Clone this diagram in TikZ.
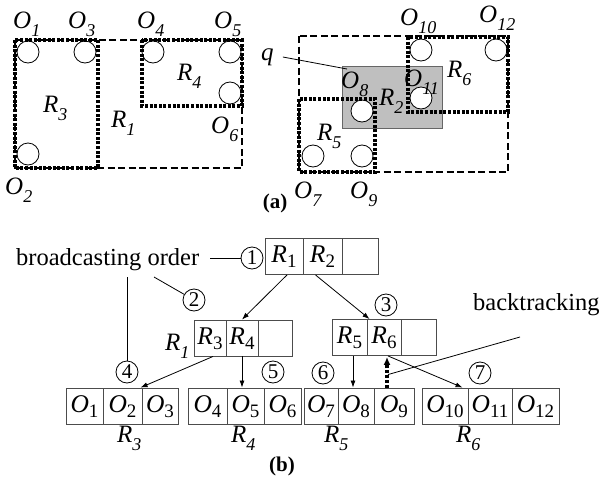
\documentclass[tikz,border=0pt]{standalone}
\usepackage{fontspec}
\setmainfont{Liberation Serif}
\usetikzlibrary{arrows.meta,calc}
\newcommand{\la}[2]{\textit{#1}\raisebox{-8pt}{\fontsize{18}{18}\selectfont\textit{#2}}}
\newcommand{\lc}[2]{\textit{#1}\raisebox{-5pt}{\fontsize{19}{19}\selectfont #2}}
\tikzset{
 dashbox/.style={line width=1.4pt, dash pattern=on 7pt off 3.5pt},
 dotbox/.style={line width=3.4pt, dash pattern=on 3pt off 1.6pt},
 obst/.style={draw, line width=0.8pt, fill=white},
 lab/.style={inner sep=0pt, anchor=base west, font=\fontsize{25}{25}\selectfont},
 cell/.style={draw=black!70, line width=0.9pt, inner sep=0pt, minimum height=36pt, text height=14pt, text depth=2pt, font=\fontsize{25.5}{25.5}\selectfont},
 num/.style={draw, circle, line width=0.8pt, inner sep=0pt, minimum size=22pt, font=\fontsize{21}{21}\selectfont},
 txt/.style={inner sep=0pt, anchor=base west, font=\fontsize{24.5}{24.5}\selectfont},
 arr/.style={line width=0.8pt, -{Latex[length=7pt,width=5pt]}},
 conn/.style={line width=0.8pt},
 back/.style={line width=3.4pt, dash pattern=on 3pt off 1.8pt, -{Latex[length=8pt,width=7pt]}},
 sublab/.style={font=\bfseries\fontsize{21}{21}\selectfont, inner sep=0pt},
}
\begin{document}
\begin{tikzpicture}[x=1pt,y=-1pt]
\useasboundingbox (0,0) rectangle (602,479);
% ---------- (a) left ----------
\draw[obst] (28,52) circle[radius=11pt];
\draw[obst] (85,52) circle[radius=11pt];
\draw[obst] (28,154) circle[radius=11pt];
\draw[obst] (153,52) circle[radius=11pt];
\draw[obst] (230,52) circle[radius=11pt];
\draw[obst] (230,93) circle[radius=11pt];
\draw[dashbox] (15,40) rectangle (242,168);
\draw[dotbox] (15,40) rectangle (98,168);
\draw[dotbox] (142,40) rectangle (242,106);
\node[lab] (lO1) at (13,28) {\la{O}{1}};
\node[lab] (lO3) at (68,28) {\la{O}{3}};
\node[lab] (lO4) at (137,28) {\la{O}{4}};
\node[lab] (lO5) at (214,28) {\la{O}{5}};
\node[lab] (lO6) at (211,133) {\la{O}{6}};
\node[lab] (lO2) at (5,194) {\la{O}{2}};
\node[lab] (lR3) at (43,112) {\la{R}{3}};
\node[lab] (lR1) at (111,127) {\la{R}{1}};
\node[lab] (lR4) at (177,80) {\la{R}{4}};
% ---------- (a) right ----------
\draw[fill=black!25, draw=black!60, line width=0.8pt] (342,66) rectangle (442,128);
\draw[obst] (313,156) circle[radius=11pt];
\draw[obst] (362,156) circle[radius=11pt];
\draw[obst] (362,111) circle[radius=11pt];
\draw[obst] (421,50) circle[radius=11pt];
\draw[obst] (421,98) circle[radius=11pt];
\draw[obst] (496,50) circle[radius=11pt];
\draw[dashbox] (299,36) rectangle (508,172);
\draw[dotbox] (299,99) rectangle (375,172);
\draw[dotbox] (408,37) rectangle (508,112);
\node[lab] (lq) at (261,60) {\textit{q}};
\draw[conn] ($(lq.base east)+(9,-3)$) -- (347,69);
\node[lab] (lO8) at (341,88) {\la{O}{8}};
\node[lab] (lR2) at (379,105) {\la{R}{2}};
\node[lab] (lO11) at (404,86) {\la{O}{11}};
\node[lab] (lR6) at (447,77) {\la{R}{6}};
\node[lab] (lO10) at (400,25) {\la{O}{10}};
\node[lab] (lO12) at (479,23) {\la{O}{12}};
\node[lab] (lR5) at (317,140) {\la{R}{5}};
\node[lab] (lO7) at (294,198) {\la{O}{7}};
\node[lab] (lO9) at (350,198) {\la{O}{9}};
\node[sublab] (sa) at (275,203) {(a)};
% ---------- (b) ----------
\node[cell, minimum width=38pt] (t1) at (284,256.5) {\lc{R}{1}};
\node[cell, minimum width=39pt] (t2) at (322.5,256.5) {\lc{R}{2}};
\node[cell, minimum width=36pt] (t3) at (360,256.5) {};
\node[cell, minimum width=32pt] (n11) at (210,338) {\lc{R}{3}};
\node[cell, minimum width=32pt] (n12) at (242,338) {\lc{R}{4}};
\node[cell, minimum width=34pt] (n13) at (275,338) {};
\node[cell, minimum width=35pt] (n21) at (349.5,337.5) {\lc{R}{5}};
\node[cell, minimum width=34pt] (n22) at (384,337.5) {\lc{R}{6}};
\node[cell, minimum width=35pt] (n23) at (418.5,337.5) {};
\node[cell, minimum width=37pt] (l31) at (84.5,406) {\lc{O}{1}};
\node[cell, minimum width=39pt] (l32) at (122.5,406) {\lc{O}{2}};
\node[cell, minimum width=36pt] (l33) at (160,406) {\lc{O}{3}};
\node[cell, minimum width=39pt] (l41) at (207.5,406) {\lc{O}{4}};
\node[cell, minimum width=37pt] (l42) at (245.5,406) {\lc{O}{5}};
\node[cell, minimum width=37pt] (l43) at (282.5,406) {\lc{O}{6}};
\node[cell, minimum width=34pt] (l51) at (321,406) {\lc{O}{7}};
\node[cell, minimum width=36pt] (l52) at (356,406) {\lc{O}{8}};
\node[cell, minimum width=40pt] (l53) at (394,406) {\lc{O}{9}};
\node[cell, minimum width=46pt] (l61) at (445,406) {\lc{O}{10}};
\node[cell, minimum width=44pt] (l62) at (490,406) {\lc{O}{11}};
\node[cell, minimum width=47pt] (l63) at (535.5,406) {\lc{O}{12}};
\node[lab] (bR1) at (165,350) {\la{R}{1}};
\node[lab] (bR3) at (117,442) {\la{R}{3}};
\node[lab] (bR4) at (231,442) {\la{R}{4}};
\node[lab] (bR5) at (324,442) {\la{R}{5}};
\node[lab] (bR6) at (456,442) {\la{R}{6}};
\node[sublab] (sb) at (282,466) {(b)};
\node[num] (c1) at (252,258) {1};
\node[num] (c2) at (194,300) {2};
\node[num] (c3) at (386,305) {3};
\node[num] (c4) at (127,372) {4};
\node[num] (c5) at (273,372) {5};
\node[num] (c6) at (323,373) {6};
\node[num] (c7) at (480,373) {7};
\node[txt] (bo) at (16,265) {broadcasting order};
\node[txt] (bt) at (473,310) {backtracking};
\draw[conn] ($(bo.base east)+(11,-7)$) -- (c1.west);
\draw[conn] ($(bo.base west)+(138,12)$) -- (c2);
\coordinate (v4) at ($(bo.base west)+(111,12)$);
\draw[conn] (v4) -- (v4 |- c4.north);
\draw[arr] ($(t1.south)+(3,0)$) -- (n12.north);
\draw[arr] ($(t2.south)+(-7,0)$) -- ($(n22.north west)+(3,0)$);
\draw[arr] ($(n11.south)+(3,0)$) -- ($(l33.north west)+(-1,0)$);
\draw[arr] (n12.south) -- (n12.south |- l42.north);
\coordinate (a5) at ($(n21.south)+(3.5,0)$);
\draw[arr] (a5) -- (a5 |- l52.north);
\draw[arr] ($(n22.south)+(4,0)$) -- ($(l62.north west)+(-5,0)$);
\draw[back] ($(l53.north)+(-7,0)$) -- ($(n22.south)+(3,1)$);
\coordinate (bk) at ($(l53.north)+(-6,-13)$);
\draw[conn] ($(bt.base west)+(47,27)$) -- (bk);
\end{tikzpicture}
\end{document}
